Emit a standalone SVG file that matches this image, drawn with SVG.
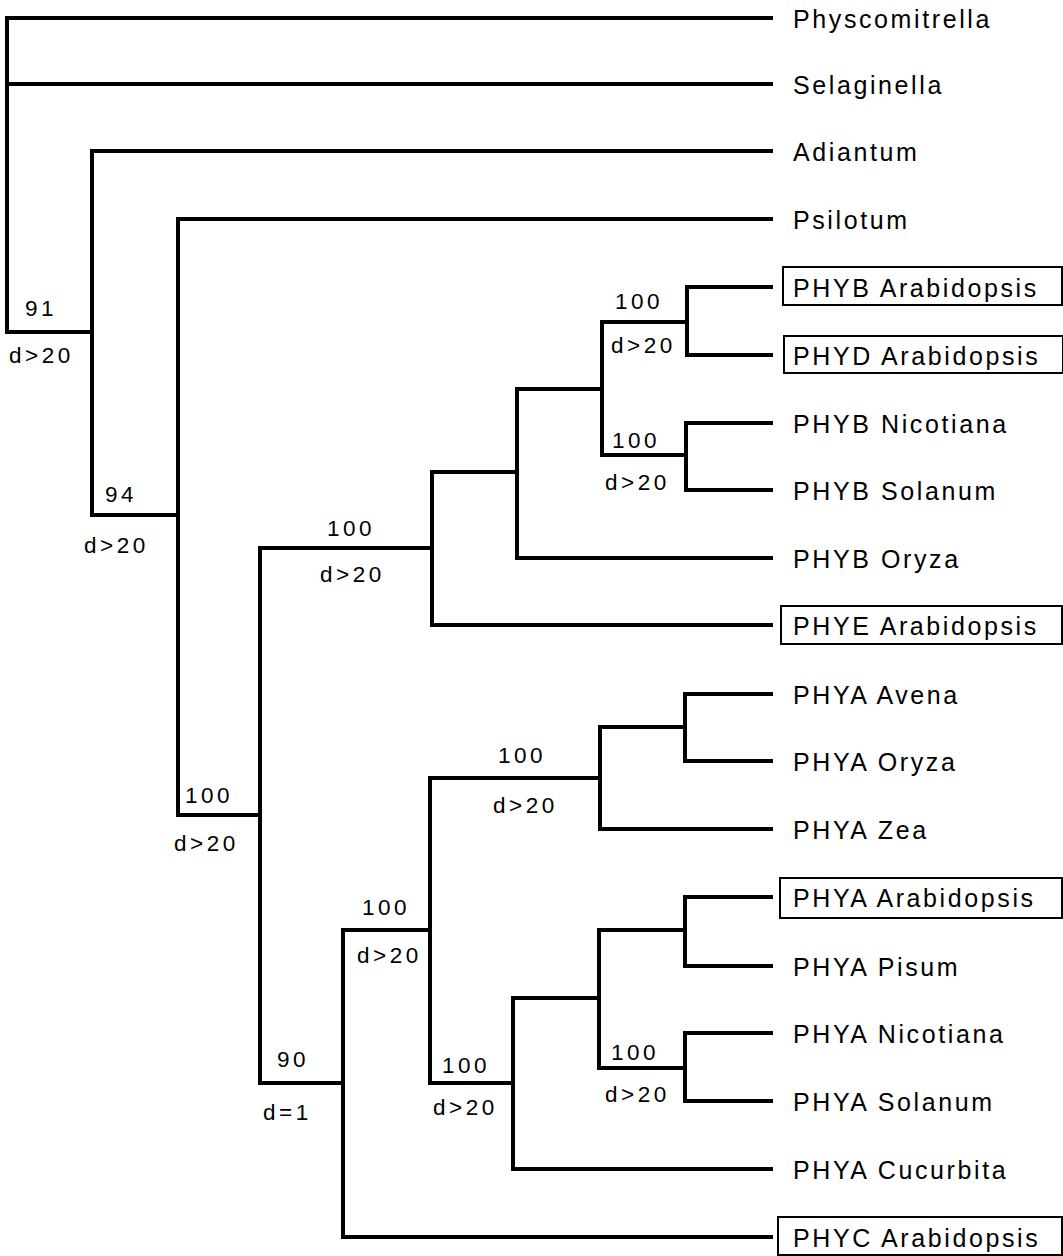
<svg xmlns="http://www.w3.org/2000/svg" width="1063" height="1256" viewBox="0 0 1063 1256">
<style>
.edge{fill:none;stroke:#000;stroke-width:4;stroke-linejoin:miter;stroke-linecap:butt}
.leaf{font-family:"Liberation Sans",Arial,sans-serif;font-size:25px;letter-spacing:2.6px;fill:#000}
.sup{font-family:"Liberation Sans",Arial,sans-serif;font-size:22.5px;letter-spacing:3.5px;fill:#000}
.box{fill:none;stroke:#000;stroke-width:2}
</style>
<rect width="1063" height="1256" fill="#fff"/>
<g id="connectors">
<path class="edge" d="M773,18 H7 V332 H92"/>
<path class="edge" d="M7,84 H773"/>
<path class="edge" d="M773,151 H92 V515 H178"/>
<path class="edge" d="M773,219 H178 V815 H260"/>
<path class="edge" d="M432,548 H260 V1083 H343"/>
<path class="edge" d="M773,625 H432 V472 H517"/>
<path class="edge" d="M602,389 H517 V558 H773"/>
<path class="edge" d="M687,322 H602 V455 H686"/>
<path class="edge" d="M773,287 H687 V355 H773"/>
<path class="edge" d="M773,423 H686 V490 H773"/>
<path class="edge" d="M430,930 H343 V1237 H773"/>
<path class="edge" d="M600,778 H430 V1083 H513"/>
<path class="edge" d="M685,727 H600 V829 H773"/>
<path class="edge" d="M773,694 H685 V761 H773"/>
<path class="edge" d="M599,998 H513 V1169 H773"/>
<path class="edge" d="M685,930 H599 V1068 H685"/>
<path class="edge" d="M773,897 H685 V966 H773"/>
<path class="edge" d="M773,1033 H685 V1101 H773"/>
</g>
<g id="support-labels">
<text class="sup" x="25" y="316">91</text>
<text class="sup" x="9" y="363">d&gt;20</text>
<text class="sup" x="105" y="502">94</text>
<text class="sup" x="84" y="553">d&gt;20</text>
<text class="sup" x="327" y="536">100</text>
<text class="sup" x="320" y="582">d&gt;20</text>
<text class="sup" x="615" y="309">100</text>
<text class="sup" x="611" y="353">d&gt;20</text>
<text class="sup" x="612" y="448">100</text>
<text class="sup" x="605" y="490">d&gt;20</text>
<text class="sup" x="185" y="803">100</text>
<text class="sup" x="174" y="851">d&gt;20</text>
<text class="sup" x="498" y="763">100</text>
<text class="sup" x="493" y="813">d&gt;20</text>
<text class="sup" x="362" y="915">100</text>
<text class="sup" x="357" y="963">d&gt;20</text>
<text class="sup" x="277" y="1067">90</text>
<text class="sup" x="263" y="1120">d=1</text>
<text class="sup" x="442" y="1073">100</text>
<text class="sup" x="433" y="1115">d&gt;20</text>
<text class="sup" x="611" y="1060">100</text>
<text class="sup" x="605" y="1102">d&gt;20</text>
</g>
<g id="n-physcomitrella"><text class="leaf" x="793" y="28">Physcomitrella</text></g>
<g id="n-selaginella"><text class="leaf" x="793" y="94">Selaginella</text></g>
<g id="n-adiantum"><text class="leaf" x="793" y="161">Adiantum</text></g>
<g id="n-psilotum"><text class="leaf" x="793" y="229">Psilotum</text></g>
<g id="n-phyb-arabidopsis"><rect class="box" x="783" y="267" width="279" height="38"/><text class="leaf" x="793" y="297">PHYB Arabidopsis</text></g>
<g id="n-phyd-arabidopsis"><rect class="box" x="784" y="336" width="279" height="37"/><text class="leaf" x="793" y="365">PHYD Arabidopsis</text></g>
<g id="n-phyb-nicotiana"><text class="leaf" x="793" y="433">PHYB Nicotiana</text></g>
<g id="n-phyb-solanum"><text class="leaf" x="793" y="500">PHYB Solanum</text></g>
<g id="n-phyb-oryza"><text class="leaf" x="793" y="568">PHYB Oryza</text></g>
<g id="n-phye-arabidopsis"><rect class="box" x="781" y="606" width="281" height="38"/><text class="leaf" x="793" y="635">PHYE Arabidopsis</text></g>
<g id="n-phya-avena"><text class="leaf" x="793" y="704">PHYA Avena</text></g>
<g id="n-phya-oryza"><text class="leaf" x="793" y="771">PHYA Oryza</text></g>
<g id="n-phya-zea"><text class="leaf" x="793" y="839">PHYA Zea</text></g>
<g id="n-phya-arabidopsis"><rect class="box" x="780" y="878" width="282" height="40"/><text class="leaf" x="793" y="907">PHYA Arabidopsis</text></g>
<g id="n-phya-pisum"><text class="leaf" x="793" y="976">PHYA Pisum</text></g>
<g id="n-phya-nicotiana"><text class="leaf" x="793" y="1043">PHYA Nicotiana</text></g>
<g id="n-phya-solanum"><text class="leaf" x="793" y="1111">PHYA Solanum</text></g>
<g id="n-phya-cucurbita"><text class="leaf" x="793" y="1179">PHYA Cucurbita</text></g>
<g id="n-phyc-arabidopsis"><rect class="box" x="778" y="1217" width="284" height="38"/><text class="leaf" x="793" y="1247">PHYC Arabidopsis</text></g>
</svg>
